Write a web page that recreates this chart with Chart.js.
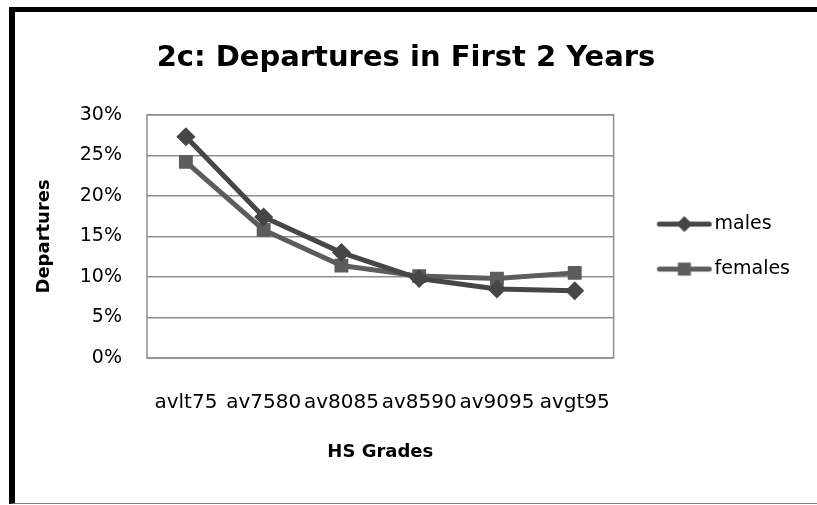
<!DOCTYPE html>
<html>
<head>
<meta charset="utf-8">
<script src="https://cdn.jsdelivr.net/npm/chart.js@4"></script>
<style>
  body { margin: 0; background: #fff; }
  #wrap { position: relative; width: 817px; height: 505px; }
  #frame {
    position: absolute; left: 9px; top: 7px; right: 0; height: 491px;
    border-left: 6px solid #000; border-top: 5px solid #000; border-bottom: 1px solid #808080;
    pointer-events: none;
  }
</style>
</head>
<body>
<div id="wrap">
  <canvas id="chart" width="817" height="505"></canvas>
  <div id="frame"></div>
</div>
<script>
// data (percent)
const grades = ["avlt75", "av7580", "av8085", "av8590", "av9095", "avgt95"];
const males = [27.3, 17.4, 13.0, 9.8, 8.5, 8.3];
const females = [24.2, 15.8, 11.4, 10.1, 9.8, 10.5];
const yTicks = [0, 5, 10, 15, 20, 25, 30];

const maleColor = "rgb(70,70,70)";
const femaleColor = "rgb(92,92,92)";
const gridColor = "rgb(142,142,142)";

// little line + marker picture for the legend
function legendIcon(color, style) {
  const c = document.createElement("canvas");
  c.width = 80; c.height = 20;
  const g = c.getContext("2d");
  g.strokeStyle = color; g.fillStyle = color;
  g.lineWidth = 5; g.lineCap = "round";
  g.beginPath(); g.moveTo(27, 10); g.lineTo(77, 10); g.stroke();
  const cx = 52, cy = 10;
  g.beginPath();
  if (style === "rectRot") {
    g.moveTo(cx, cy - 8); g.lineTo(cx + 8, cy); g.lineTo(cx, cy + 8); g.lineTo(cx - 8, cy);
  } else {
    g.rect(cx - 6.5, cy - 6.5, 13, 13);
  }
  g.closePath(); g.fill();
  return c;
}

const plotFrame = {
  id: "plotFrame",
  afterDraw(chart) {
    const a = chart.chartArea, ctx = chart.ctx;
    ctx.save();
    ctx.strokeStyle = gridColor;
    ctx.lineWidth = 1.5;
    ctx.strokeRect(a.left, a.top, a.right - a.left, a.bottom - a.top);
    ctx.restore();
  }
};

const tickFont = { family: "DejaVu Sans", size: 19 };

new Chart(document.getElementById("chart"), {
  type: "line",
  data: {
    labels: grades,
    datasets: [{
      label: "males",
      data: males,
      borderColor: maleColor,
      backgroundColor: maleColor,
      borderWidth: 5,
      pointStyle: "rectRot",
      pointRadius: 9.5,
      pointBorderWidth: 0,
      icon: legendIcon(maleColor, "rectRot")
    }, {
      label: "females",
      data: females,
      borderColor: femaleColor,
      backgroundColor: femaleColor,
      borderWidth: 5,
      pointStyle: "rect",
      pointRadius: 9.8,
      pointBorderWidth: 0,
      icon: legendIcon(femaleColor, "rect")
    }]
  },
  options: {
    responsive: false,
    animation: false,
    layout: { padding: { left: 12, right: 17, top: 0, bottom: 0 } },
    plugins: {
      title: {
        display: true,
        text: "2c: Departures in First 2 Years",
        color: "#000",
        font: { family: "DejaVu Sans", size: 29, weight: "bold" },
        padding: { top: 41, bottom: 39 }
      },
      legend: {
        position: "right",
        fullSize: false,
        title: { display: true, text: "", padding: 0, font: { size: 17 } },
        labels: {
          color: "#000",
          font: { family: "DejaVu Sans", size: 19 },
          usePointStyle: true,
          pointStyleWidth: 65.5,
          padding: 26,
          generateLabels(chart) {
            const items = Chart.defaults.plugins.legend.labels.generateLabels(chart);
            items.forEach(it => { it.pointStyle = chart.data.datasets[it.datasetIndex].icon; });
            return items;
          }
        }
      },
      tooltip: { enabled: false }
    },
    scales: {
      x: {
        offset: true,
        grid: { display: false, drawTicks: false },
        border: { display: false },
        ticks: { color: "#000", font: { family: "DejaVu Sans", size: 20 }, padding: 33, autoSkip: false, maxRotation: 0 },
        title: {
          display: true, text: "HS Grades", color: "#000",
          font: { family: "DejaVu Sans", size: 18, weight: "bold" },
          padding: { bottom: 42, top: 0 }
        },
        afterFit(s) { s.height = 147; }
      },
      y: {
        min: 0,
        max: 30,
        grid: { color: gridColor, lineWidth: 1.5, drawTicks: false },
        border: { display: false },
        afterBuildTicks(s) { s.ticks = yTicks.map(v => ({ value: v })); },
        ticks: { color: "#000", font: tickFont, padding: 25, callback: v => v + "%" },
        title: {
          display: true, text: "Departures", color: "#000",
          font: { family: "DejaVu Sans", size: 18, weight: "bold" },
          padding: { top: 22, bottom: 0 }
        },
        afterFit(s) { s.width = 135; }
      }
    }
  },
  plugins: [plotFrame]
});
</script>
</body>
</html>
